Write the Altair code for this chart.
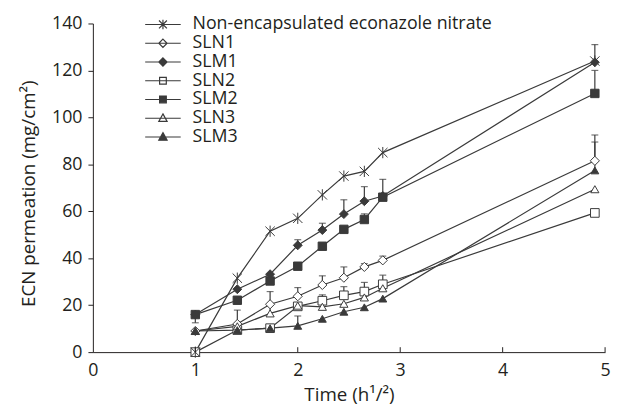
import altair as alt
import pandas as pd

# ---- data ----
times = [1.0, 1.41, 1.73, 2.0, 2.24, 2.45, 2.65, 2.83, 4.9]
series = ["Non-encapsulated econazole nitrate", "SLN1", "SLM1", "SLN2", "SLM2", "SLN3", "SLM3"]
draw_order = [7, 2, 3, 1, 4, 5, 6]

non_enc = [0, 31.5, 51.5, 57, 67, 75, 77, 85, 124]
sln1 = [9, 12, 20.4, 23.8, 28.6, 31.7, 36.3, 39.1, 81.5]
slm1 = [16, 26.8, 33.2, 45.5, 52, 58.8, 64.3, 66.5, 123.5]
sln2 = [0, 9.4, 10.2, 19.5, 21.9, 24.2, 25.8, 28.9, 59.3]
slm2 = [16, 22.1, 30.3, 36.6, 45.1, 52.3, 56.5, 66, 110.2]
sln3 = [9, 11, 16.5, 19.8, 19.3, 20.6, 23.3, 27.2, 69.4]
slm3 = [9, 9.4, 10.2, 11.2, 14.2, 17.2, 19.1, 22.8, 77.4]
values = [non_enc, sln1, slm1, sln2, slm2, sln3, slm3]

# error bars: series, time, low end, high end (cap)
err_series = ["SLM2", "SLN1", "SLN3", "SLM1", "SLN1", "SLM3", "SLM1", "SLN1", "SLN2",
              "SLM1", "SLN1", "SLN2", "SLM1", "SLM2", "SLN1", "SLN2", "SLM1", "SLN1", "SLN2",
              "Non-encapsulated econazole nitrate", "SLM2", "SLN1", "SLM3"]
err_time = [1.0, 1.41, 1.73, 2.0, 2.0, 2.0, 2.24, 2.24, 2.24,
            2.45, 2.45, 2.45, 2.65, 2.65, 2.65, 2.65, 2.83, 2.83, 2.83,
            4.9, 4.9, 4.9, 4.9]
err_lo = [16, 12, 16.5, 45.5, 23.8, 11.2, 52, 28.6, 21.9,
          58.8, 31.7, 24.2, 64.3, 56.5, 36.3, 25.8, 66.5, 39.1, 28.9,
          124, 110.2, 81.5, 77.4]
err_hi = [12.5, 17.9, 25.8, 47.9, 27.5, 15.4, 54.9, 32.5, 24.4,
          64.9, 36.3, 27.9, 70.5, 58.9, 37.7, 29.7, 73.6, 40.9, 32.8,
          131, 120, 92.5, 89.5]

x_ticks = [0, 1, 2, 3, 4, 5]
y_ticks = [0, 20, 40, 60, 80, 100, 120, 140]

# ---- styling ----
INK = "#231f20"
LINE = "#3a3a3a"
FONT = "Open Sans"
ASTER = "M-1,-1L1,1M-1,1L1,-1M0,-1.2L0,1.2"
marker_shapes = [ASTER, "diamond", "diamond", "square", "square", "triangle-up", "triangle-up"]
marker_sizes = [90, 64, 64, 49, 49, 60, 60]
fills = [LINE, "white", LINE, "white", LINE, "white", LINE]
strokes = [LINE] * 7

seg = "M-4.5,0L4.5,0"
legend_shapes = [
    seg + "M-1,-1L1,1M-1,1L1,-1M0,-1.2L0,1.2",
    seg + "M0,-1.05L1.05,0L0,1.05L-1.05,0Z",
    seg + "M0,-1.05L1.05,0L0,1.05L-1.05,0Z",
    seg + "M-0.85,-0.85L0.85,-0.85L0.85,0.85L-0.85,0.85Z",
    seg + "M-0.85,-0.85L0.85,-0.85L0.85,0.85L-0.85,0.85Z",
    seg + "M0,-1.1L1.05,0.8L-1.05,0.8Z",
    seg + "M0,-1.1L1.05,0.8L-1.05,0.8Z",
]

rows = []
for s, z, vals in zip(series, draw_order, values):
    for t, v in zip(times, vals):
        rows.append({"series": s, "z": z, "t": t, "v": v})
df = pd.DataFrame(rows)

err = pd.DataFrame({"series": err_series, "t": err_time, "lo": err_lo, "hi": err_hi})
leg_df = pd.DataFrame({"label": series, "t": [times[0]] * len(series), "v": [0] * len(series)})
tick_df = pd.DataFrame({"t": x_ticks[1:]})

W, H = 519, 333

xscale = alt.Scale(domain=[0, 5], nice=False)
yscale = alt.Scale(domain=[0, 140], nice=False)

x_axis = alt.Axis(values=x_ticks, format="d", tickSize=0, labelPadding=10,
                  labelFont=FONT, labelFontSize=18, labelColor=INK,
                  domainColor=INK, domainWidth=1, grid=False, labelFlush=False,
                  title="Time (h¹/²)", titleFont=FONT, titleFontSize=19,
                  titleFontWeight="normal", titleColor=INK,
                  titleX=W / 2, titleY=43, titleBaseline="middle", titleAlign="center")
y_axis = alt.Axis(values=y_ticks, tickSize=5, tickColor=INK, labelPadding=6,
                  labelFont=FONT, labelFontSize=18, labelColor=INK,
                  domainColor=INK, domainWidth=1, grid=False,
                  title="ECN permeation (mg/cm²)", titleFont=FONT, titleFontSize=19,
                  titleFontWeight="normal", titleColor=INK,
                  titleX=-65, titleY=172, titleBaseline="middle", titleAlign="center",
                  titleAngle=270)

X = alt.X("t:Q", scale=xscale, axis=x_axis)
Y = alt.Y("v:Q", scale=yscale, axis=y_axis)

lines = alt.Chart(df).mark_line(color=LINE, strokeWidth=1.2).encode(
    x=X, y=Y, detail="series:N", order="t:Q")

bars = alt.Chart(err).mark_rule(color=LINE, strokeWidth=1.2).encode(
    x=alt.X("t:Q", scale=xscale), y=alt.Y("lo:Q", scale=yscale), y2="hi:Q")

caps = alt.Chart(err).mark_tick(orient="horizontal", color=LINE, size=7, thickness=1.2).encode(
    x=alt.X("t:Q", scale=xscale), y=alt.Y("hi:Q", scale=yscale))

points = alt.Chart(df).mark_point(stroke=LINE, strokeWidth=1, opacity=1).encode(
    x=alt.X("t:Q", scale=xscale), y=alt.Y("v:Q", scale=yscale),
    shape=alt.Shape("series:N", scale=alt.Scale(domain=series, range=marker_shapes), legend=None),
    fill=alt.Fill("series:N", scale=alt.Scale(domain=series, range=fills), legend=None),
    size=alt.Size("series:N", scale=alt.Scale(domain=series, range=marker_sizes), legend=None),
    order=alt.Order("z:Q"),
)

legend = alt.Legend(orient="none", legendX=62, legendY=-8, title=None,
                    labelFont=FONT, labelFontSize=18, labelColor=INK, labelLimit=500,
                    labelOffset=21, rowPadding=1, symbolSize=64, padding=0,
                    symbolOpacity=1, symbolStrokeWidth=1.2)

leg_layer = alt.Chart(leg_df).mark_point(opacity=0).encode(
    x=alt.X("t:Q", scale=xscale), y=alt.Y("v:Q", scale=yscale),
    shape=alt.Shape("label:N", scale=alt.Scale(domain=series, range=legend_shapes), legend=legend),
    fill=alt.Fill("label:N", scale=alt.Scale(domain=series, range=fills), legend=legend),
    stroke=alt.Stroke("label:N", scale=alt.Scale(domain=series, range=strokes), legend=legend),
)

inticks = alt.Chart(tick_df).mark_rule(color=INK, strokeWidth=1).encode(
    x=alt.X("t:Q", scale=xscale), y=alt.value(H), y2=alt.value(H - 5))

chart = alt.layer(lines, bars, caps, points, leg_layer, inticks).resolve_scale(
    shape="independent", fill="independent", size="independent", stroke="independent"
).properties(
    width=W, height=H, autosize="none",
    padding={"left": 86, "top": 13, "right": 7, "bottom": 60},
    background="white",
).configure_view(stroke=None)

chart.save("out.html", embed_options={"renderer": "svg", "actions": False})
